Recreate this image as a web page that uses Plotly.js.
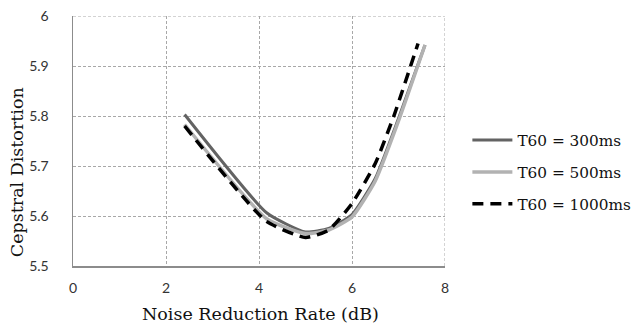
<!DOCTYPE html>
<html>
<head>
<meta charset="utf-8">
<script src="https://cdn.plot.ly/plotly-3.0.1.min.js"></script>
<style>html,body{margin:0;padding:0;background:#fff;}#chart{width:642px;height:324px;}</style>
</head>
<body>
<div id="chart"></div>
<script>
// Data
const seriesNames = ["T60 = 300ms", "T60 = 500ms", "T60 = 1000ms"];
const x300 = [2.4, 4.17, 5.0, 5.5, 6.0, 6.5, 7.0, 7.57];
const y300 = [5.803, 5.606, 5.568, 5.575, 5.603, 5.675, 5.795, 5.942];
const x500 = [2.4, 4.17, 5.0, 5.5, 6.0, 6.5, 7.0, 7.57];
const y500 = [5.783, 5.594, 5.565, 5.572, 5.598, 5.670, 5.790, 5.942];
const x1000 = [2.4, 4.15, 5.0, 5.5, 6.0, 6.5, 6.9, 7.42];
const y1000 = [5.780, 5.590, 5.557, 5.572, 5.625, 5.705, 5.800, 5.945];
const xTicks = [0, 2, 4, 6, 8];
const yTicks = [5.5, 5.6, 5.7, 5.8, 5.9, 6];
const yTickText = ["5.5", "5.6", "5.7", "5.8", "5.9", "6"];
const xTitle = "Noise Reduction Rate (dB)";
const yTitle = "Cepstral Distortion";

const serif = "DejaVu Serif, Liberation Serif, serif";
const sans = "Lato, Open Sans, sans-serif";

const traces = [
  {x: x300, y: y300, name: seriesNames[0], mode: "lines", legendgroup: "a",
   line: {color: "#636363", width: 3, shape: "spline", smoothing: 0.5}},
  {x: x500, y: y500, name: seriesNames[1], mode: "lines", legendgroup: "b",
   line: {color: "#b2b2b2", width: 3.5, shape: "spline", smoothing: 0.5}},
  {x: x1000, y: y1000, name: seriesNames[2], mode: "lines", legendgroup: "c",
   line: {color: "#000000", width: 3.5, dash: "11px,7px", shape: "spline", smoothing: 0.5}}
];

const layout = {
  width: 642, height: 324,
  margin: {l: 73, r: 197, t: 16, b: 58, autoexpand: false},
  paper_bgcolor: "#ffffff", plot_bgcolor: "#ffffff",
  showlegend: true,
  legend: {xref: "container", yref: "container", x: 0.728, y: 0.469,
           xanchor: "left", yanchor: "middle",
           font: {family: serif, size: 15.3, color: "#111"},
           traceorder: "grouped", tracegroupgap: 9, itemwidth: 40,
           bgcolor: "rgba(0,0,0,0)"},
  xaxis: {
    range: [0, 8], tickvals: xTicks, ticktext: xTicks.map(String),
    showgrid: true, gridcolor: "#a8a8a8", griddash: "3px,2px", gridwidth: 1,
    showline: true, linecolor: "#8c8c8c", linewidth: 1.5, mirror: false,
    zeroline: false, ticks: "", ticklen: 0, ticklabelstandoff: 9,
    tickfont: {family: sans, size: 14, color: "#333"}
  },
  yaxis: {
    range: [5.5, 6], tickvals: yTicks, ticktext: yTickText,
    showgrid: true, gridcolor: "#a8a8a8", griddash: "3px,2px", gridwidth: 1,
    showline: true, linecolor: "#8c8c8c", linewidth: 1.5,
    zeroline: false, ticks: "", ticklen: 0, ticklabelstandoff: 20,
    tickfont: {family: sans, size: 14, color: "#333"}
  },
  annotations: [
    {text: xTitle, xref: "paper", yref: "paper", x: 0.503, y: -0.193,
     xanchor: "center", yanchor: "middle", showarrow: false,
     font: {family: serif, size: 17.5, color: "#111"}},
    {text: yTitle, xref: "paper", yref: "paper", x: -0.15, y: 0.376,
     xanchor: "center", yanchor: "middle", showarrow: false, textangle: -90,
     font: {family: serif, size: 17.5, color: "#111"}}
  ],
  shapes: [
    {type: "line", xref: "x", yref: "paper", x0: 8, x1: 8, y0: 0, y1: 1,
     line: {color: "#a8a8a8", width: 1, dash: "3px,2px"}},
    {type: "line", xref: "paper", yref: "y", x0: 0, x1: 1, y0: 6, y1: 6,
     line: {color: "#a8a8a8", width: 1, dash: "3px,2px"}}
  ]
};

Plotly.newPlot("chart", traces, layout, {displayModeBar: false, staticPlot: true});
</script>
</body>
</html>
